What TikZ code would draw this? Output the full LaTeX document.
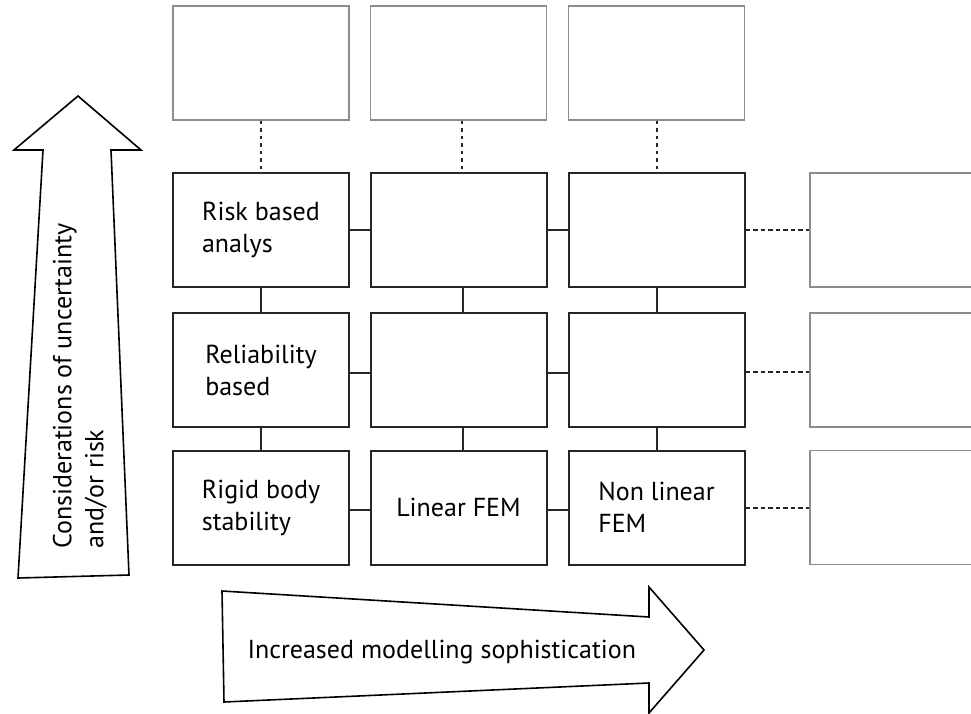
\documentclass[tikz,border=0pt]{standalone}
\usepackage{fontspec}
\setmainfont{PT Sans}
\begin{document}
\begin{tikzpicture}[x=1pt,y=-1pt,
  txt/.style={font=\fontsize{26}{32}\selectfont},
  box/.style={draw=black!85,line width=2pt,rectangle,minimum width=176pt,minimum height=114pt,inner sep=0pt,align=left,txt},
  ghost/.style={draw=black!45,line width=1.6pt,rectangle,minimum width=176pt,minimum height=114pt,inner sep=0pt},
  link/.style={draw=black!85,line width=2pt},
  vdot/.style={draw=black!85,line width=1.8pt,dash pattern=on 3.5pt off 4pt},
  hdash/.style={draw=black!85,line width=1.8pt,dash pattern=on 4.5pt off 3pt},
  bigarrow/.style={draw=black,line width=1.6pt,line join=miter,fill=white}]
\useasboundingbox (0,0) rectangle (971,714);
\clip (0,0) rectangle (971,714);
% top gray boxes
\node[ghost] (t1) at (261,63) {};
\node[ghost] (t2) at (458.5,63) {};
\node[ghost] (t3) at (656.5,63) {};
% grid
\node[box] (a1) at (261,230) {Risk based\\analys};
\node[box] (a2) at (458.5,230) {};
\node[box] (a3) at (656.5,230) {};
\node[box] (b1) at (261,370) {Reliability\\based};
\node[box] (b2) at (458.5,370) {};
\node[box] (b3) at (656.5,370) {};
\node[box] (c1) at (261,507.5) {Rigid body\\stability};
\node[box] (c2) at (458.5,507.5) {Linear FEM};
\node[box] (c3) at (656.5,507.5) {Non linear\\FEM};
% right gray boxes
\node[ghost,anchor=west] (r1) at (809,230) {};
\node[ghost,anchor=west] (r2) at (809,370) {};
\node[ghost,anchor=west] (r3) at (809,507.5) {};
% vertical dotted
\draw[vdot] (t1.south) -- (a1.north);
\draw[vdot] ([xshift=3.5pt]t2.south) -- ([xshift=3.5pt]a2.north);
\draw[vdot] ([xshift=0.5pt]t3.south) -- ([xshift=0.5pt]a3.north);
% vertical solid
\draw[link] (a1.south) -- (b1.north);
\draw[link] (b1.south) -- (c1.north);
\draw[link] ([xshift=4.5pt]a2.south) -- ([xshift=4.5pt]b2.north);
\draw[link] ([xshift=4.5pt]b2.south) -- ([xshift=4.5pt]c2.north);
\draw[link] ([xshift=0.5pt]a3.south) -- ([xshift=0.5pt]b3.north);
\draw[link] ([xshift=0.5pt]b3.south) -- ([xshift=0.5pt]c3.north);
% horizontal solid
\draw[link] (a1.east) -- (a2.west);
\draw[link] (a2.east) -- (a3.west);
\draw[link] ([yshift=-3pt]b1.east) -- ([yshift=-3pt]b2.west);
\draw[link] ([yshift=-3pt]b2.east) -- ([yshift=-3pt]b3.west);
\draw[link] ([yshift=-2.5pt]c1.east) -- ([yshift=-2.5pt]c2.west);
\draw[link] ([yshift=-2.5pt]c2.east) -- ([yshift=-2.5pt]c3.west);
% dashed to right
\draw[hdash] (a3.east) -- (r1.west);
\draw[hdash] ([yshift=-2pt]b3.east) -- ([yshift=-2pt]r2.west);
\draw[hdash] ([yshift=-0.5pt]c3.east) -- ([yshift=-0.5pt]r3.west);
% up arrow
\draw[bigarrow] (18,578) -- (129,575) -- (111,150) -- (141,150) -- (78,96) -- (14,150) -- (43,150) -- cycle;
\node[rotate=90,align=left,txt] (up) at (80,386) {Considerations of uncertainty\\and/or risk};
% right arrow
\draw[bigarrow] (222,591) -- (649,617) -- (649,587) -- (704,650) -- (649,713) -- (649,683) -- (224,702) -- cycle;
\node[txt,anchor=base west] (rt) at (244,658) {Increased modelling sophistication};
\end{tikzpicture}
\end{document}
